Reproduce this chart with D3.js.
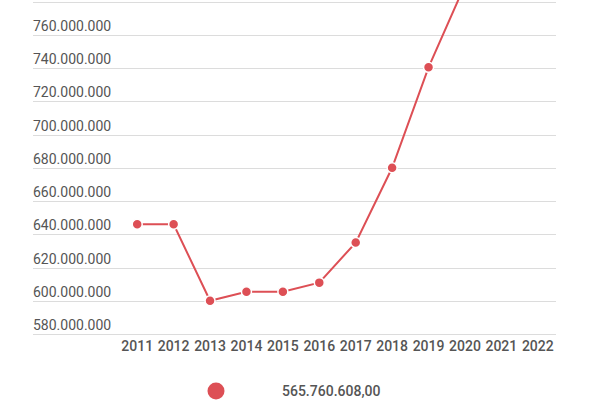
<!DOCTYPE html>
<html>
<head>
<meta charset="utf-8">
<script src="https://cdn.jsdelivr.net/npm/d3@7"></script>
<style>
  body { margin: 0; background: #fff; }
  text { font-family: Roboto, "Noto Sans", sans-serif; }
</style>
</head>
<body>
<div id="chart"></div>
<script>
var width = 600,
    height = 400;

const years = ['2011', '2012', '2013', '2014', '2015', '2016', '2017', '2018', '2019', '2020', '2021', '2022'];
const values = [646000000, 646000000, 600000000, 605400000, 605400000, 610900000, 635000000, 680000000, 740400000, 790000000];
const yTicks = [580000000, 600000000, 620000000, 640000000, 660000000, 680000000, 700000000, 720000000, 740000000, 760000000, 780000000];
const legendLabel = '565.760.608,00';

const lineColor = '#dd4f55';
const textColor = '#555';

var svg = d3.select('#chart').append('svg')
    .attr('width', width)
    .attr('height', height);

var x = d3.scaleBand()
    .domain(years)
    .range([119, 556]);

var y = d3.scaleLinear()
    .domain([580000000, 780000000])
    .range([334, 1.5]);

const fmt = v => d3.format(',')(v).replace(/,/g, '.');

// grid + y labels
var grid = svg.append('g');
grid.selectAll('line')
    .data(yTicks)
    .enter().append('line')
    .attr('x1', 33)
    .attr('x2', 556)
    .attr('y1', d => Math.round(y(d)) + 0.5)
    .attr('y2', d => Math.round(y(d)) + 0.5)
    .attr('stroke', '#dcdcdc')
    .attr('stroke-width', 1);

grid.selectAll('text')
    .data(yTicks)
    .enter().append('text')
    .attr('x', 33)
    .attr('y', d => y(d) - 4)
    .attr('fill', textColor)
    .attr('font-size', 14)
    .text(d => fmt(d));

// x labels
svg.append('g').selectAll('text')
    .data(years)
    .enter().append('text')
    .attr('x', d => x(d) + x.bandwidth() / 2)
    .attr('y', 351)
    .attr('text-anchor', 'middle')
    .attr('fill', textColor)
    .attr('font-size', 14)
    .attr('font-weight', 500)
    .text(d => d);

// series
const pts = values.map((v, i) => [x(years[i]) + x.bandwidth() / 2, y(v)]);

svg.append('path')
    .datum(pts)
    .attr('fill', 'none')
    .attr('stroke', lineColor)
    .attr('stroke-width', 2)
    .attr('d', d3.line());

svg.append('g').selectAll('circle')
    .data(pts)
    .enter().append('circle')
    .attr('cx', d => d[0])
    .attr('cy', d => d[1])
    .attr('r', 5)
    .attr('fill', lineColor)
    .attr('stroke', '#fff')
    .attr('stroke-width', 1.5);

// legend
svg.append('circle')
    .attr('cx', 216)
    .attr('cy', 391)
    .attr('r', 8.5)
    .attr('fill', lineColor);

svg.append('text')
    .attr('x', 282)
    .attr('y', 396)
    .attr('fill', textColor)
    .attr('font-size', 14)
    .attr('font-weight', 500)
    .text(legendLabel);
</script>
</body>
</html>
